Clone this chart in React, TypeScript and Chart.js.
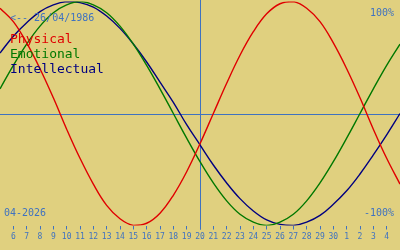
import React, { useEffect, useRef } from "react";
import { Chart, registerables } from "chart.js";

Chart.register(...registerables);

// Days shown: 5 April 2026 .. 5 May 2026
const dayLabels = [
  "5", "6", "7", "8", "9", "10", "11", "12", "13", "14", "15", "16", "17", "18", "19", "20",
  "21", "22", "23", "24", "25", "26", "27", "28", "29", "30", "1", "2", "3", "4", "5",
];
const physical = [
  0.94, 0.82, 0.63, 0.4, 0.14, -0.14, -0.4, -0.63, -0.82, -0.94, -1.0, -0.98, -0.89, -0.73, -0.52, -0.27,
  0.0, 0.27, 0.52, 0.73, 0.89, 0.98, 1.0, 0.94, 0.82, 0.63, 0.4, 0.14, -0.14, -0.4, -0.63,
];
const emotional = [
  0.22, 0.43, 0.62, 0.78, 0.9, 0.97, 1.0, 0.97, 0.9, 0.78, 0.62, 0.43, 0.22, 0.0, -0.22, -0.43,
  -0.62, -0.78, -0.9, -0.97, -1.0, -0.97, -0.9, -0.78, -0.62, -0.43, -0.22, 0.0, 0.22, 0.43, 0.62,
];
const intellectual = [
  0.54, 0.69, 0.81, 0.91, 0.97, 1.0, 0.99, 0.95, 0.87, 0.76, 0.62, 0.46, 0.28, 0.1, -0.1, -0.28,
  -0.46, -0.62, -0.76, -0.87, -0.95, -0.99, -1.0, -0.97, -0.91, -0.81, -0.69, -0.54, -0.37, -0.19, 0.0,
];
const seriesNames = ["Physical", "Emotional", "Intellectual"];
const seriesColors = ["#e00000", "#007800", "#000080"];
const todayIndex = 15;
const birthText = "<-- 26/04/1986";
const monthText = "04-2026";
const topText = "100%";
const bottomText = "-100%";

const BG = "#e0d07f";
const BLUE = "#3f72c0";
const MONO = "'DejaVu Sans Mono', monospace";

const overlay = {
  id: "overlay",
  beforeDatasetsDraw(chart: any) {
    const ctx = chart.ctx;
    const x = chart.scales.x;
    const y = chart.scales.y;
    ctx.save();
    ctx.strokeStyle = BLUE;
    ctx.lineWidth = 1;
    const y0 = Math.round(y.getPixelForValue(0)) + 0.5;
    ctx.beginPath();
    ctx.moveTo(0, y0);
    ctx.lineTo(chart.width, y0);
    ctx.stroke();
    const xt = Math.round(x.getPixelForValue(todayIndex)) + 0.5;
    ctx.beginPath();
    ctx.moveTo(xt, 0);
    ctx.lineTo(xt, chart.chartArea.bottom + 4);
    ctx.stroke();
    ctx.restore();
  },
  afterDraw(chart: any) {
    const ctx = chart.ctx;
    ctx.save();
    ctx.font = `10px ${MONO}`;
    ctx.fillStyle = BLUE;
    ctx.textBaseline = "alphabetic";
    ctx.textAlign = "left";
    ctx.fillText(birthText, 10, 21);
    ctx.fillText(monthText, 4, 216);
    ctx.textAlign = "right";
    ctx.fillText(topText, 394, 16);
    ctx.fillText(bottomText, 394, 216);
    ctx.textAlign = "left";
    ctx.font = `13px ${MONO}`;
    seriesNames.forEach((n, i) => {
      ctx.fillStyle = seriesColors[i];
      ctx.fillText(n, 10, 43 + i * 15);
    });
    ctx.restore();
  },
};

export default function App() {
  const ref = useRef<HTMLCanvasElement | null>(null);
  useEffect(() => {
    if (!ref.current) return;
    const values = [physical, emotional, intellectual];
    const chart = new Chart(ref.current, {
      type: "line",
      data: {
        labels: dayLabels,
        datasets: values.map((v, i) => ({
          label: seriesNames[i],
          data: v,
          borderColor: seriesColors[i],
          borderWidth: 1.4,
          pointRadius: 0,
          tension: 0.4,
          fill: false,
        })),
      },
      options: {
        animation: false,
        responsive: true,
        maintainAspectRatio: false,
        layout: { padding: { top: 1.5, left: 0, right: 0, bottom: 0 } },
        plugins: { legend: { display: false }, tooltip: { enabled: false } },
        scales: {
          x: {
            type: "category",
            offset: false,
            position: "bottom",
            border: { display: false },
            grid: {
              drawOnChartArea: false,
              drawTicks: true,
              tickLength: 4,
              color: BLUE,
              lineWidth: 1,
              offset: false,
            },
            ticks: {
              autoSkip: false,
              maxRotation: 0,
              minRotation: 0,
              padding: 3,
              color: BLUE,
              font: { family: MONO, size: 8 },
              callback: (v: any) => dayLabels[v as number],
            },
            afterBuildTicks: (axis: any) => {
              axis.ticks = axis.ticks.slice(1, -1);
            },
            afterFit: (axis: any) => {
              axis.height = 24.5;
            },
          },
          y: { display: false, min: -1, max: 1 },
        },
      },
      plugins: [overlay],
    });
    return () => chart.destroy();
  }, []);
  return (
    <div style={{ position: "fixed", left: 0, top: 0, width: 400, height: 250, background: BG }}>
      <canvas ref={ref} />
    </div>
  );
}
